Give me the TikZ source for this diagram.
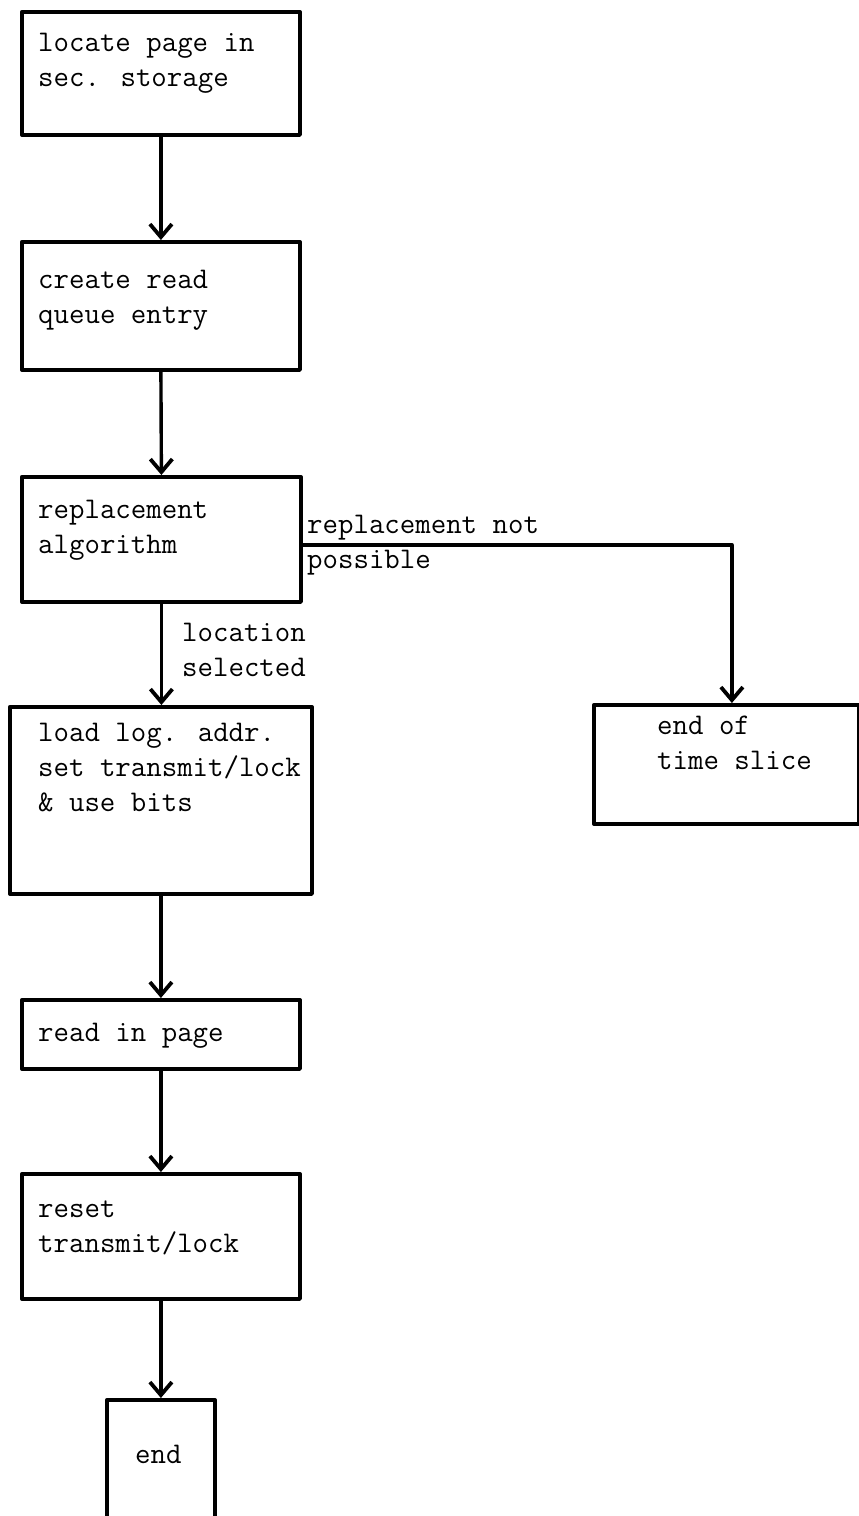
\documentclass[tikz,border=0pt]{standalone}
\usetikzlibrary{arrows.meta}
\begin{document}
\begin{tikzpicture}[x=1pt,y=-1pt,
  box/.style={draw, line width=3.8pt, rectangle, inner sep=0pt, anchor=north west, line join=round},
  txt/.style={anchor=north west, inner sep=0pt, align=left,
              font=\fontsize{30}{35}\selectfont\ttfamily},
  flow/.style={line width=3.4pt, line join=round,
               -{Straight Barb[length=13pt,width=22pt,line width=3.8pt]}}]
  \fill[white] (0,0) rectangle (859,1516);
  \useasboundingbox (0,0) rectangle (859,1516);
  \clip (0,0) rectangle (859,1516);

  % process boxes
  \node[box, minimum width=278pt, minimum height=123pt] (b1) at (20,10) {};
  \node[box, minimum width=278pt, minimum height=128pt] (b2) at (20,240) {};
  \node[box, minimum width=279pt, minimum height=125pt] (b3) at (20,475) {};
  \node[box, minimum width=302pt, minimum height=187pt] (b4) at (8,705) {};
  \node[box, minimum width=265pt, minimum height=119pt] (b8) at (592,703) {};
  \node[box, minimum width=278pt, minimum height=69pt]  (b5) at (20,998) {};
  \node[box, minimum width=278pt, minimum height=125pt] (b6) at (20,1172) {};
  \node[box, minimum width=108pt, minimum height=160pt] (b7) at (105,1398) {};

  % box texts
  \node[txt] (t1) at (38,27)   {\strut locate page in\\sec. storage};
  \node[txt] (t2) at (38,264)  {\strut create read\\queue entry};
  \node[txt] (t3) at (38,494)  {\strut replacement\\algorithm};
  \node[txt] (t4) at (38,717)  {\strut load log. addr.\\set transmit/lock\\\& use bits};
  \node[txt] (t8) at (657,710) {\strut end of\\time slice};
  \node[txt] (t5) at (38,1017) {\strut read in page};
  \node[txt] (t6) at (38,1193) {\strut reset\\transmit/lock};
  \node[txt] (t7) at (135,1439) {\strut end};

  % connector labels
  \node[txt] (l1) at (307,509) {\strut replacement not\\possible};
  \node[txt] (l2) at (182,617) {\strut location\\selected};

  % connectors
  \draw[flow] (b1.south) -- (b2.north);
  \draw[flow] (b2.south) -- (b3.north);
  \draw[flow] (b3.south) -- (b3.south |- b4.north);
  \draw[flow] ([yshift=-5.5pt]b3.east) -| ([xshift=5.5pt]b8.north);
  \draw[flow] (b4.south) -- (b5.north);
  \draw[flow] (b5.south) -- (b6.north);
  \draw[flow] (b6.south) -- (b7.north);
\end{tikzpicture}
\end{document}
